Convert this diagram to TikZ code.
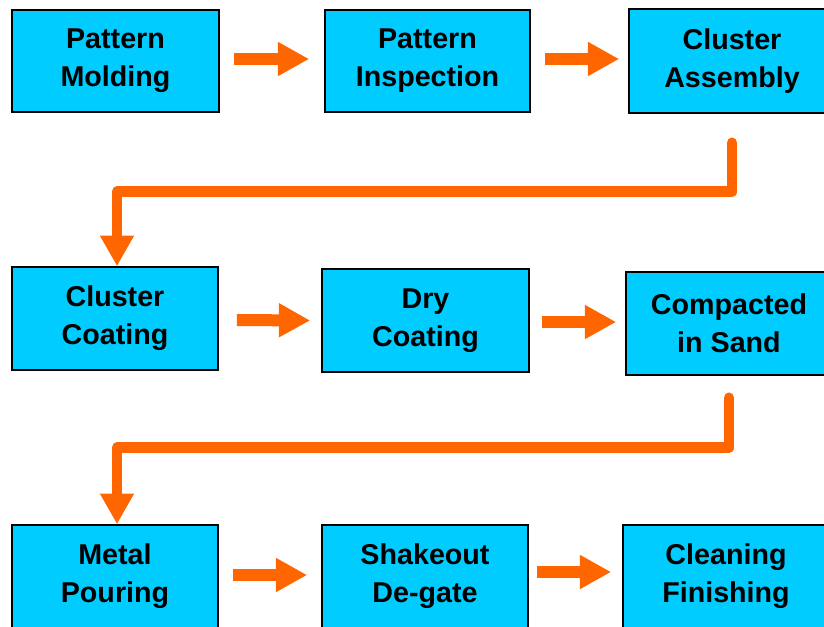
\documentclass[tikz,border=0pt]{standalone}
\usepackage{fontspec}
\setmainfont{Liberation Sans}
\usetikzlibrary{arrows.meta}
\definecolor{boxcyan}{HTML}{00CCFF}
\definecolor{arrorange}{HTML}{FF6600}
\tikzset{
  procbox/.style={draw=black, line width=1.2pt, fill=boxcyan, align=center,
    inner sep=0pt, minimum width=206*0.75pt, minimum height=103*0.75pt,
    font=\fontsize{21.5}{28.5}\selectfont\bfseries},
  harrow/.style={draw=arrorange, line width=9pt,
    -{Triangle[length=23.5pt, width=24pt]}},
  conn/.style={draw=arrorange, line width=8pt, line join=round, line cap=round,
    -{Triangle[length=23pt, width=24pt]}}
}
\begin{document}
\begin{tikzpicture}[x=0.75pt, y=-0.75pt]
\useasboundingbox (0,0) rectangle (824,626);
\node[procbox, minimum width=207*0.75pt, minimum height=102*0.75pt] (b1) at (115.5,61) {Pattern\\Molding};
\node[procbox, minimum width=205*0.75pt, minimum height=102*0.75pt] (b2) at (427.5,61) {Pattern\\Inspection};
\node[procbox, minimum height=104*0.75pt] (b3) at (732,61) {Cluster\\Assembly};
\node[procbox] (b4) at (115,318.5) {Cluster\\Coating};
\node[procbox, minimum width=207*0.75pt] (b5) at (425.5,320.5) {Dry\\Coating};
\node[procbox] (b6) at (729,323.5) {Compacted\\in Sand};
\node[procbox] (b7) at (115,576.5) {Metal\\Pouring};
\node[procbox] (b8) at (425,576.5) {Shakeout\\De-gate};
\node[procbox] (b9) at (726,576.5) {Cleaning\\Finishing};

\draw[harrow] ([xshift=14*0.75pt, yshift=2*0.75pt]b1.east) -- ([xshift=-15*0.75pt, yshift=2*0.75pt]b2.west);
\draw[harrow] ([xshift=14*0.75pt, yshift=2*0.75pt]b2.east) -- ([xshift=-9*0.75pt, yshift=2*0.75pt]b3.west);
\draw[harrow] ([xshift=18*0.75pt, yshift=-1.5*0.75pt]b4.east) -- ([xshift=-11*0.75pt, yshift=0pt]b5.west);
\draw[harrow] ([xshift=12*0.75pt, yshift=-1.5*0.75pt]b5.east) -- ([xshift=-9*0.75pt, yshift=1.5*0.75pt]b6.west);
\draw[harrow] ([xshift=14*0.75pt, yshift=1.5*0.75pt]b7.east) -- ([xshift=-14*0.75pt, yshift=1.5*0.75pt]b8.west);
\draw[harrow] ([xshift=8*0.75pt, yshift=4.5*0.75pt]b8.east) -- ([xshift=-11*0.75pt, yshift=4.5*0.75pt]b9.west);

\draw[conn] ([yshift=-29*0.75pt]b3.south) -- ++(0,49) -| ([xshift=2*0.75pt]b4.north);
\draw[conn] ([yshift=-22*0.75pt]b6.south) -- ++(0,50) -| ([xshift=2*0.75pt]b7.north);
\end{tikzpicture}
\end{document}
